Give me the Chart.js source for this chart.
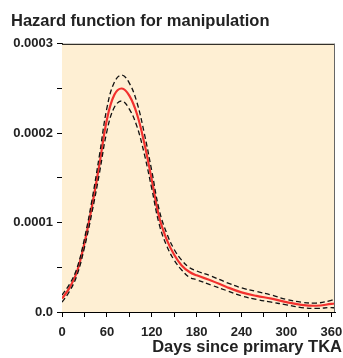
<!DOCTYPE html>
<html>
<head>
<meta charset="utf-8">
<script src="https://cdn.jsdelivr.net/npm/chart.js@4/dist/chart.umd.min.js"></script>
<style>
html,body{margin:0;padding:0;background:#fff;}
#wrap{position:relative;width:343px;height:358px;}
</style>
</head>
<body>
<div id="wrap"><canvas id="c" width="343" height="358"></canvas></div>
<script>
const days = [0,10,20,30,40,50,60,70,80,90,100,110,120,130,140,150,160,170,180,200,220,240,260,280,300,320,340,360,365];
const hazard = [0.000015,0.000027,0.000045,0.000077,0.000118,0.000165,0.000215,0.000243,0.000250,0.000242,0.000222,0.000189,0.000148,0.000106,0.000081,0.000064,0.000052,0.000045,0.000041,0.000035,0.000028,0.000022,0.000018,0.000015,0.000011,0.000008,0.000007,0.000009,0.0000095];
const upper = [0.000019,0.000031,0.000049,0.000082,0.000125,0.000175,0.000228,0.000257,0.000265,0.000256,0.000235,0.000200,0.000158,0.000114,0.000088,0.000070,0.000058,0.000050,0.000046,0.000040,0.000033,0.000027,0.000023,0.000019,0.000014,0.000011,0.000010,0.000013,0.000015];
const lower = [0.000011,0.000023,0.000041,0.000072,0.000111,0.000155,0.000202,0.000229,0.000236,0.000227,0.000208,0.000177,0.000138,0.000098,0.000074,0.000058,0.000047,0.000039,0.000036,0.000030,0.000024,0.000018,0.000014,0.000011,0.000008,0.000005,0.000004,0.000005,0.0000045];
const xTicks = [0,30,60,90,120,150,180,210,240,270,300,330,360];
const xLabels = ['0','','60','','120','','180','','240','','300','','360'];
const yTicks = [0,0.00005,0.0001,0.00015,0.0002,0.00025,0.0003];
const yLabels = ['0.0','','0.0001','','0.0002','','0.0003'];
const titleText = 'Hazard function for manipulation';
const xTitle = 'Days since primary TKA';

const pts = arr => days.map((d,i)=>({x:d,y:arr[i]}));
const FONT = "'Liberation Sans', Arial, sans-serif";

const framePlugin = {
  id:'frame',
  beforeDatasetsDraw(chart){
    const {ctx, chartArea:a} = chart;
    ctx.save();
    ctx.fillStyle = '#FEEFD3';
    ctx.fillRect(a.left, a.top, a.right-a.left, a.bottom-a.top);
    ctx.restore();
  },
  afterDraw(chart){
    const {ctx, chartArea:a} = chart;
    ctx.save();
    ctx.strokeStyle = '#000';
    ctx.lineWidth = 1;
    ctx.beginPath();
    ctx.moveTo(a.left, a.top+0.5); ctx.lineTo(a.right, a.top+0.5);
    ctx.stroke();
    ctx.strokeStyle = '#666';
    ctx.beginPath();
    ctx.moveTo(a.right-0.5, a.top); ctx.lineTo(a.right-0.5, a.bottom);
    ctx.stroke();
    ctx.fillStyle = '#222';
    ctx.font = "bold 16.5px " + FONT;
    ctx.textAlign = 'right';
    ctx.textBaseline = 'alphabetic';
    ctx.fillText(xTitle, 342, 352);
    ctx.restore();
  }
};

new Chart(document.getElementById('c'), {
  type:'line',
  data:{
    datasets:[
      {data:pts(upper), borderColor:'#111', borderWidth:1.3, borderDash:[5,3], pointRadius:0, tension:0.4, fill:false},
      {data:pts(lower), borderColor:'#111', borderWidth:1.3, borderDash:[5,3], pointRadius:0, tension:0.4, fill:false},
      {data:pts(hazard), borderColor:'#F2312E', borderWidth:2.2, pointRadius:0, tension:0.4, fill:false}
    ]
  },
  options:{
    responsive:false,
    animation:false,
    layout:{padding:{left:11,right:8,top:0,bottom:0}},
    plugins:{
      legend:{display:false},
      tooltip:{enabled:false},
      title:{display:true, text:titleText, align:'start', color:'#222',
        font:{family:FONT, size:16.5, weight:'bold'}, padding:{top:12,bottom:12}}
    },
    scales:{
      x:{type:'linear', min:0, max:365,
        afterBuildTicks(s){ s.ticks = xTicks.map(v=>({value:v})); },
        afterFit(s){ s.height = 46; s.paddingLeft=0; s.paddingRight=0; },
        ticks:{autoSkip:false, maxRotation:0, color:'#222', padding:8,
          font:{family:FONT, size:13, weight:'bold'},
          callback:(v,i)=>xLabels[i]},
        grid:{drawOnChartArea:false, drawTicks:true, tickLength:5, color:'#000', lineWidth:1},
        border:{display:true, color:'#000', width:1}
      },
      y:{min:0, max:0.0003,
        afterBuildTicks(s){ s.ticks = yTicks.map(v=>({value:v})); },
        afterFit(s){ s.width = 51; s.paddingTop=0; s.paddingBottom=0; },
        ticks:{autoSkip:false, color:'#222', padding:4,
          font:{family:FONT, size:13, weight:'bold'},
          callback:(v,i)=>yLabels[i]},
        grid:{drawOnChartArea:false, drawTicks:true, tickLength:5, color:'#000', lineWidth:1},
        border:{display:true, color:'#000', width:1}
      }
    }
  },
  plugins:[framePlugin]
});
</script>
</body>
</html>
